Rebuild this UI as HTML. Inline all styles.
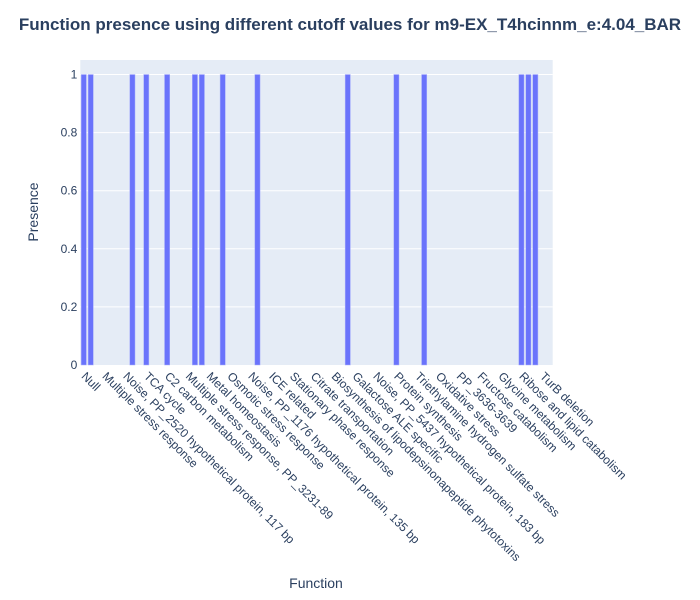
<!DOCTYPE html>
<html><head><meta charset="utf-8"><style>body{margin:0;background:#fff}svg{display:block;font-family:"Liberation Sans",Arial,sans-serif}</style></head>
<body>
<svg id="chart" width="700" height="600">
<rect width="700" height="600" fill="#fff"/>
<rect x="80.3" y="60" width="472.4" height="305" fill="#e5ecf6"/>
<g id="grid"></g><g id="bars"></g><g id="yticks"></g><g id="xticks"></g>
<text x="350" y="30" text-anchor="middle" font-size="17" font-weight="bold" fill="#2a3f5f">Function presence using different cutoff values for m9-EX_T4hcinnm_e:4.04_BAR</text>
<text transform="translate(38,212) rotate(-90)" text-anchor="middle" font-size="14" fill="#2a3f5f">Presence</text>
<text x="316" y="588" text-anchor="middle" font-size="14" fill="#2a3f5f">Function</text>
</svg>
<script>
const labelNames = ["Null","Multiple stress response","Noise, PP_2520 hypothetical protein, 117 bp","TCA cycle","C2 carbon metabolism","Multiple stress response, PP_3231-89","Metal homeostasis","Osmotic stress response","Noise, PP_1176 hypothetical protein, 135 bp","ICE related","Stationary phase response","Citrate transportation","Biosynthesis of lipodepsinonapeptide phytotoxins","Galactose ALE specific","Noise, PP_5437 hypothetical protein, 183 bp","Protein synthesis","Triethylamine hydrogen sulfate stress","Oxidative stress","PP_3636-3639","Fructose catabolism","Glycine metabolism","Ribose and lipid catabolism","TurB deletion"];
const categoryCount = 68;
const presentIndices = [0,1,7,9,12,16,17,20,25,38,45,49,63,64,65];
const yTicks = [0,0.2,0.4,0.6,0.8,1];
const categories = [];
for (let i = 0; i < categoryCount; i++) categories.push(i % 3 === 0 && labelNames[i/3] ? labelNames[i/3] : "Function " + i);
const values = categories.map((c, i) => presentIndices.includes(i) ? 1 : 0);

const NS = "http://www.w3.org/2000/svg";
const L = 80.3, R = 552.7, T = 60, B = 365, yMax = 1.05;
const step = (R - L) / categories.length;
const xc = i => L + step * (i + 0.5);
const y = v => B - (v / yMax) * (B - T);
function mk(tag, attrs, parent) { const e = document.createElementNS(NS, tag); for (const k in attrs) e.setAttribute(k, attrs[k]); document.getElementById(parent).appendChild(e); return e; }

yTicks.forEach(t => {
  if (t > 0) {
    const g = mk("line", {x1: L, x2: R, y1: y(t), y2: y(t), stroke: "#fff", "stroke-width": 1}, "grid");
    
    
  }
  const tx = mk("text", {x: L - 3, y: y(t) + 4, "text-anchor": "end", "font-size": 12, fill: "#2a3f5f"}, "yticks");
  tx.textContent = String(t);
  
  
});

values.forEach((v, i) => {
  if (v > 0) {
    const w = step * 0.75;
    const r = mk("rect", {x: xc(i) - w / 2, y: y(v), width: w, height: B - y(v), fill: "#6a73fb", stroke: "#a9b0fc", "stroke-width": 0.5}, "bars");
    
    
  }
});

categories.forEach((c, i) => {
  if (i % 3 !== 0 || !labelNames[i/3]) return;
  const x0 = xc(i) - 3, y0 = 377;
  const tx = mk("text", {x: x0, y: y0, "font-size": 12, fill: "#2a3f5f", transform: `rotate(45 ${x0} ${y0})`}, "xticks");
  tx.textContent = c;
  
  
});
</script>
</body></html>
